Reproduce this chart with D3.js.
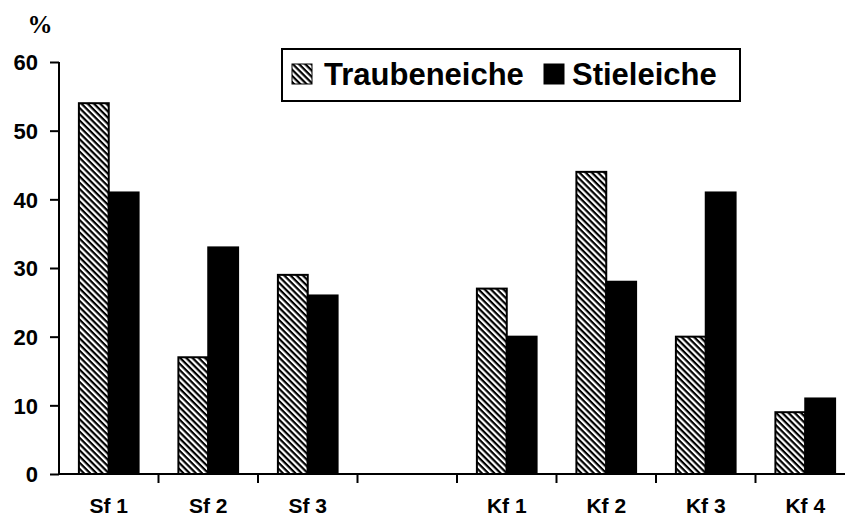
<!DOCTYPE html>
<html>
<head>
<meta charset="utf-8">
<script src="https://cdn.jsdelivr.net/npm/d3@7"></script>
<style>
  body { margin: 0; background: #fff; }
</style>
</head>
<body>
<div id="chart"></div>
<script>
const categories = ["Sf 1", "Sf 2", "Sf 3", "", "Kf 1", "Kf 2", "Kf 3", "Kf 4"];
const seriesNames = ["Traubeneiche", "Stieleiche"];
const traubeneiche = [54, 17, 29, null, 27, 44, 20, 9];
const stieleiche = [41, 33, 26, null, 20, 28, 41, 11];
const yTicks = [0, 10, 20, 30, 40, 50, 60];

const width = 845, height = 518;
const margin = { top: 62, left: 59, bottom: 44 };
const sans = "Arial, 'Liberation Sans', sans-serif";

const svg = d3.select("#chart").append("svg")
    .attr("width", width)
    .attr("height", height)
    .attr("font-family", sans)
    .attr("font-weight", "bold");

// hatch pattern for Traubeneiche
const defs = svg.append("defs");
const pat = defs.append("pattern")
    .attr("id", "hatch")
    .attr("patternUnits", "userSpaceOnUse")
    .attr("width", 4.4)
    .attr("height", 4.4)
    .attr("patternTransform", "rotate(45)");
pat.append("rect").attr("width", 4.4).attr("height", 4.4).attr("fill", "#fff");
pat.append("rect").attr("width", 4.4).attr("height", 2.2).attr("fill", "#000");

const x = d3.scaleBand()
    .domain(categories.map((c, i) => i))
    .range([margin.left, margin.left + 99.5 * categories.length])
    .paddingInner(0.4)
    .paddingOuter(0.2);
const x1 = d3.scaleBand().domain(seriesNames).range([0, x.bandwidth()]);
const y = d3.scaleLinear().domain([0, 60]).range([height - margin.bottom, margin.top]);

const fills = { Traubeneiche: "url(#hatch)", Stieleiche: "#000" };

// bars
const rows = categories.map((c, i) => ({ i, values: [traubeneiche[i], stieleiche[i]] }));
const groups = svg.append("g").selectAll("g")
    .data(rows)
    .join("g")
    .attr("transform", d => `translate(${x(d.i)},0)`);
groups.selectAll("rect")
    .data(d => d.values.map((v, k) => ({ key: seriesNames[k], v })).filter(e => e.v != null))
    .join("rect")
    .attr("x", d => x1(d.key))
    .attr("y", d => y(d.v))
    .attr("width", x1.bandwidth())
    .attr("height", d => y(0) - y(d.v))
    .attr("fill", d => fills[d.key])
    .attr("stroke", "#000")
    .attr("stroke-width", 2);

// y axis
const yAxis = svg.append("g")
    .attr("transform", `translate(${margin.left},0)`)
    .call(d3.axisLeft(y).tickValues(yTicks).tickSize(9).tickPadding(12).tickFormat(d3.format("d")));
yAxis.attr("font-size", null).attr("font-family", null);
yAxis.selectAll("path, line").attr("stroke", "#000").attr("stroke-width", 2);
yAxis.select(".domain").attr("d", `M0,${y(60)}V${y(0)}`);
yAxis.selectAll("text")
    .attr("font-size", 22)
    .attr("fill", "#000")
    .attr("dy", "0.36em");

// x axis
const xAxis = svg.append("g")
    .attr("transform", `translate(0,${y(0)})`);
xAxis.append("line")
    .attr("x1", margin.left).attr("x2", width)
    .attr("y1", 0).attr("y2", 0)
    .attr("stroke", "#000").attr("stroke-width", 2);
xAxis.selectAll("line.tick")
    .data(categories.slice(1).map((c, i) => i + 1))
    .join("line")
    .attr("class", "tick")
    .attr("x1", d => x(d) - x.step() * x.paddingInner() / 2)
    .attr("x2", d => x(d) - x.step() * x.paddingInner() / 2)
    .attr("y1", 0).attr("y2", 9)
    .attr("stroke", "#000").attr("stroke-width", 2);
xAxis.selectAll("text")
    .data(categories.map((c, i) => ({ c, i })))
    .join("text")
    .attr("x", d => x(d.i) + x.bandwidth() / 2)
    .attr("y", 39)
    .attr("text-anchor", "middle")
    .attr("font-size", 21)
    .text(d => d.c);

// unit label
svg.append("text")
    .attr("x", 40).attr("y", 33)
    .attr("text-anchor", "middle")
    .attr("font-family", "'Liberation Serif', 'Times New Roman', serif")
    .attr("font-size", 25)
    .text("%");

// legend
const legend = svg.append("g");
legend.append("rect")
    .attr("x", 282).attr("y", 49)
    .attr("width", 458).attr("height", 52)
    .attr("fill", "#fff").attr("stroke", "#000").attr("stroke-width", 2);
const items = [
    { name: seriesNames[0], sx: 292, tx: 324 },
    { name: seriesNames[1], sx: 544, tx: 572 }
];
items.forEach(it => {
    legend.append("rect")
        .attr("x", it.sx).attr("y", 64)
        .attr("width", 20).attr("height", 20)
        .attr("fill", fills[it.name])
        .attr("stroke", "#000").attr("stroke-width", 1);
    legend.append("text")
        .attr("x", it.tx).attr("y", 85)
        .attr("font-size", 31)
        .text(it.name);
});
</script>
</body>
</html>
